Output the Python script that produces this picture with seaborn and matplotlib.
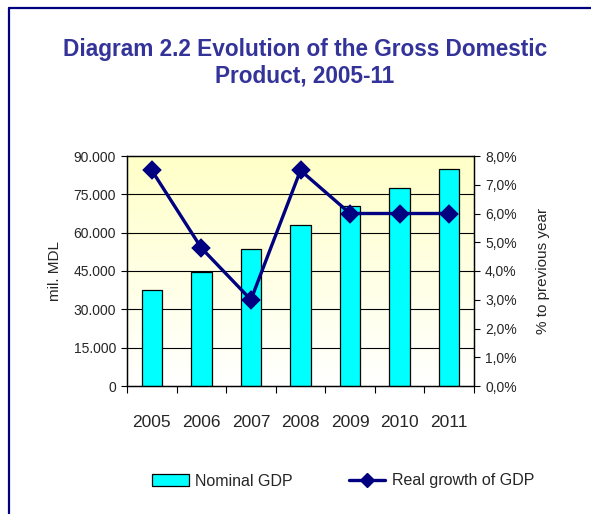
import numpy as np
import pandas as pd
import matplotlib
matplotlib.use("Agg")
import matplotlib.pyplot as plt
from matplotlib.lines import Line2D
from matplotlib.patches import Patch
from matplotlib.ticker import FuncFormatter, FixedLocator
import seaborn as sns

years = ["2005", "2006", "2007", "2008", "2009", "2010", "2011"]
nominal_gdp = [37652, 44754, 53430, 62922, 70500, 77500, 84800]   # mil. MDL
real_growth = [7.5, 4.8, 3.0, 7.5, 6.0, 6.0, 6.0]                 # % to previous year

sns.set_theme(style="white")
plt.rcParams["font.family"] = ["Liberation Sans", "DejaVu Sans"]

df = pd.DataFrame({"year": years, "gdp": nominal_gdp, "growth": real_growth})

fig = plt.figure(figsize=(5.91, 5.14), dpi=100)
ax = fig.add_axes([127 / 591, 1 - 386 / 514, 347 / 591, 230 / 514])

# soft yellow-to-white gradient behind the plot area
grad = np.linspace(0, 1, 256).reshape(-1, 1)
top = np.array([255, 255, 200]) / 255
bottom = np.array([255, 255, 255]) / 255
img = bottom + (top - bottom) * grad[:, :, None] * np.ones((1, 1, 3))
ax.imshow(img, extent=[0, 1, 0, 1], transform=ax.transAxes, origin="lower",
          aspect="auto", zorder=0)

sns.barplot(data=df, x="year", y="gdp", ax=ax, color="#00FFFF",
            edgecolor="black", linewidth=0.9, width=0.41, saturation=1, zorder=3)
ax.set_ylim(0, 90000)
ax.set_xlim(-0.5, 6.5)
ax.set_yticks(np.arange(0, 90001, 15000))
ax.yaxis.set_major_formatter(FuncFormatter(lambda v, p: f"{int(v):,}".replace(",", ".")))
for yv in np.arange(15000, 90000, 15000):
    ax.axhline(yv, color="black", lw=0.8, zorder=1)

ax.set_xlabel("")
ax.set_ylabel("mil. MDL", fontsize=11, labelpad=8)
ax.tick_params(axis="y", which="major", direction="out", length=4, width=0.8,
               color="black", labelsize=10, pad=4, left=True)
ax.tick_params(axis="x", which="major", length=0, labelsize=12.5, pad=21)
ax.xaxis.set_minor_locator(FixedLocator(np.arange(-0.5, 7, 1)))
ax.tick_params(axis="x", which="minor", direction="out", length=5, width=0.8,
               color="black", bottom=True)
for s in ax.spines.values():
    s.set_color("black")
    s.set_linewidth(0.9)
    s.set_visible(True)

ax2 = ax.twinx()
sns.pointplot(data=df, x="year", y="growth", ax=ax2, color="#000080",
              markers="D", linestyles="-", markersize=8, linewidth=2.4, zorder=5)
ax2.set_xlim(-0.5, 6.5)
ax2.set_ylim(0, 8)
ax2.set_yticks(np.arange(0, 8.01, 1))
ax2.yaxis.set_major_formatter(FuncFormatter(lambda v, p: f"{v:.1f}%".replace(".", ",")))
ax2.tick_params(axis="y", direction="out", length=4, width=0.8, color="black",
                labelsize=10, pad=4, right=True)
ax2.set_ylabel("% to previous year", fontsize=11, labelpad=14)
ax2.set_xlabel("")
for s in ax2.spines.values():
    s.set_color("black")
    s.set_linewidth(0.9)

fig.text(305 / 591, 1 - 63 / 514,
         "Diagram 2.2 Evolution of the Gross Domestic\nProduct, 2005-11",
         ha="center", va="center", multialignment="center", fontsize=16.3,
         fontweight="bold", color="#333399", linespacing=1.2)

handles = [Patch(facecolor="#00FFFF", edgecolor="black", linewidth=0.9),
           Line2D([], [], color="#000080", lw=2.4, marker="D", markersize=7)]
fig.legend(handles, ["Nominal GDP", "Real growth of GDP"], loc="center",
           bbox_to_anchor=(343 / 591, 1 - 481 / 514), ncol=2, frameon=False,
           fontsize=11.5, handlelength=2.3, handleheight=0.8, columnspacing=3.5,
           handletextpad=0.4)

# navy frame edges along the left and top of the figure
fig.add_artist(Line2D([9.5 / 591, 9.5 / 591], [0, 1 - 7.5 / 514], color="#000080",
                      lw=1.6, transform=fig.transFigure))
fig.add_artist(Line2D([9.5 / 591, 1], [1 - 7.5 / 514, 1 - 7.5 / 514], color="#000080",
                      lw=1.6, transform=fig.transFigure))

fig.savefig("out.png", dpi=100)
